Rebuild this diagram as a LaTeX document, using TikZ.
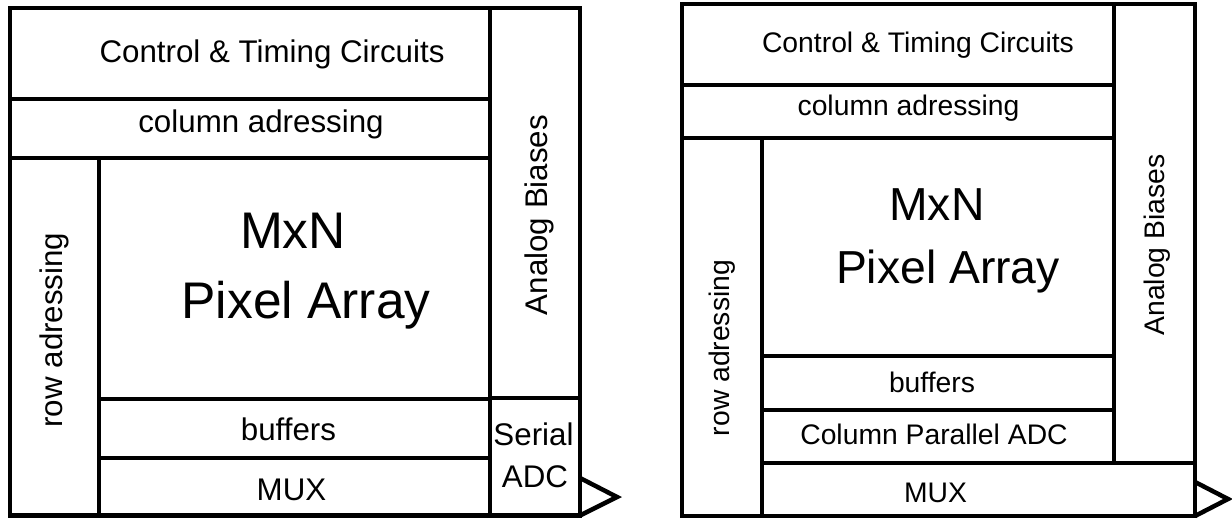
\documentclass[tikz,border=0pt]{standalone}
\usepackage{fontspec}
\setmainfont{Liberation Sans}
\begin{document}
\begin{tikzpicture}[x=1pt,y=-1pt,
  blk/.style={draw=black,line width=4.5pt,line join=miter},
  outarrow/.style={draw=black,line width=4.5pt,line join=miter},
  lblA/.style={anchor=base,inner sep=0pt,font=\fontsize{31.3}{36}\selectfont},
  lblB/.style={anchor=base,inner sep=0pt,font=\fontsize{28.3}{34}\selectfont},
  bigA/.style={anchor=base,inner sep=0pt,font=\fontsize{51.5}{60}\selectfont},
  bigB/.style={anchor=base,inner sep=0pt,font=\fontsize{46.3}{54}\selectfont}]
\useasboundingbox (0,0) rectangle (1232,519);
\fill[white] (0,0) rectangle (1232,519);

% ---------- left chip (serial ADC) ----------
\draw[blk] (10,8) rectangle (490,99);      % control
\draw[blk] (10,99) rectangle (490,158);    % column addressing
\draw[blk] (10,158) rectangle (99,515.5);  % row addressing
\draw[blk] (99,158) rectangle (490,399);   % pixel array
\draw[blk] (99,399) rectangle (490,458);   % buffers
\draw[blk] (99,458) rectangle (490,515.5); % MUX
\draw[blk] (490,8) rectangle (580,398);    % analog biases
\draw[blk] (490,398) rectangle (580,515.5);% serial ADC
\coordinate (la1) at (580,478);
\coordinate (latip) at (617,497);
\coordinate (la2) at (580,515.5);
\draw[outarrow] (la1) -- (latip) -- (la2);

\node[lblA] (ctrlL) at (272,63) {Control \& Timing Circuits};
\node[lblA] (colL) at (261,132) {column adressing};
\node[bigA] (mxnL) at (293,248) {MxN};
\node[bigA] (pixL) at (306,318) {Pixel Array};
\node[lblA,rotate=90] (rowL) at (62,330) {row adressing};
\node[lblA,rotate=90] (biasL) at (547,215) {Analog Biases};
\node[lblA] (bufL) at (288.5,440) {buffers};
\node[lblA] (muxL) at (291.5,500) {MUX};
\node[lblA] (serL) at (533.5,445) {Serial};
\node[lblA] (adcL) at (535,487) {ADC};

% ---------- right chip (column parallel ADC) ----------
\draw[blk] (682,4) rectangle (1114,85);     % control
\draw[blk] (682,85) rectangle (1114,138);   % column addressing
\draw[blk] (682,138) rectangle (762,516);   % row addressing
\draw[blk] (762,138) rectangle (1114,356);  % pixel array
\draw[blk] (762,356) rectangle (1114,410);  % buffers
\draw[blk] (762,410) rectangle (1114,463);  % column parallel ADC
\draw[blk] (762,463) rectangle (1195,516);  % MUX
\draw[blk] (1114,4) rectangle (1195,463);   % analog biases
\coordinate (ra1) at (1195,482);
\coordinate (ratip) at (1228,499);
\coordinate (ra2) at (1195,516);
\draw[outarrow] (ra1) -- (ratip) -- (ra2);

\node[lblB] (ctrlR) at (918,53) {Control \& Timing Circuits};
\node[lblB] (colR) at (908.5,115) {column adressing};
\node[bigB] (mxnR) at (937,220) {MxN};
\node[bigB] (pixR) at (948,283) {Pixel Array};
\node[lblB,rotate=90] (rowR) at (729,348) {row adressing};
\node[lblB,rotate=90] (biasR) at (1164,245) {Analog Biases};
\node[lblB] (bufR) at (932,392) {buffers};
\node[lblB] (cpadcR) at (934,444) {Column Parallel ADC};
\node[lblB] (muxR) at (935.5,502) {MUX};
\end{tikzpicture}
\end{document}
